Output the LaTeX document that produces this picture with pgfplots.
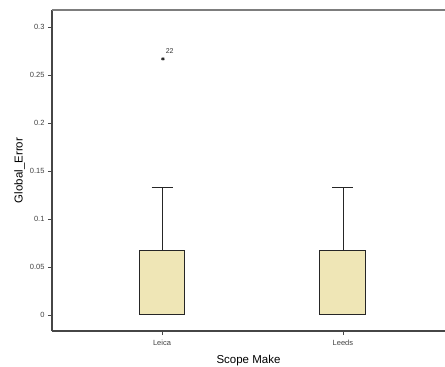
\documentclass[border=0pt]{standalone}
\usepackage{pgfplots}
\pgfplotsset{compat=1.18}
\usepackage{fontspec}
\setmainfont{Liberation Sans}
\definecolor{boxfill}{RGB}{239,230,182}
\definecolor{axgray}{RGB}{70,70,70}
\begin{document}
\begin{tikzpicture}
\begin{axis}[
  scale only axis,
  width=393pt, height=321pt,
  xmin=0.392, xmax=2.564,
  ymin=-0.0167, ymax=0.318,
  axis lines*=left,
  axis line style={axgray, line width=1.1pt},
  xtick={1,2}, xticklabels={Leica,Leeds},
  ytick={0,0.05,0.1,0.15,0.2,0.25,0.3},
  yticklabels={0,0.05,0.1,0.15,0.2,0.25,0.3},
  tick align=outside,
  major tick length=4pt,
  tick style={axgray, line width=0.8pt},
  /pgf/number format/assume math mode=true,
  ticklabel style={font=\fontsize{7.5}{8}\selectfont, text=black!75},
  xticklabel style={yshift=-2pt},
  xlabel={Scope Make},
  ylabel={Global\_Error},
  label style={font=\fontsize{11.5}{13}\selectfont},
  xlabel style={yshift=-2pt},
  ylabel style={yshift=-2pt},
  clip=false,
]
\draw[axgray!70, line width=1.4pt] (rel axis cs:0,1) -- (rel axis cs:1,1);
% Leica box (Q1 = median = 0, Q3 = 0.067) and whisker to 0.133
\addplot[draw=black!85, line width=1pt, fill=boxfill]
  coordinates {(0.873,0) (1.127,0) (1.127,0.067) (0.873,0.067)} -- cycle;
\addplot[black!85, line width=0.9pt] coordinates {(1,0.067) (1,0.133)};
\addplot[black!85, line width=0.9pt] coordinates {(0.942,0.133) (1.058,0.133)};
% Leeds box
\addplot[draw=black!85, line width=1pt, fill=boxfill]
  coordinates {(1.873,0) (2.127,0) (2.127,0.067) (1.873,0.067)} -- cycle;
\addplot[black!85, line width=0.9pt] coordinates {(2,0.067) (2,0.133)};
\addplot[black!85, line width=0.9pt] coordinates {(1.942,0.133) (2.058,0.133)};
% outlier (case 22)
\addplot[only marks, mark=asterisk, mark size=1.8pt, mark options={draw=black!85, line width=0.7pt}]
  coordinates {(1.005,0.267)};
\node[font=\fontsize{7}{8}\selectfont, text=black!80, anchor=south west, inner sep=0pt]
  at (axis cs:1.02,0.272) {22};
\end{axis}
\pgfresetboundingbox
\useasboundingbox ([shift={(-52pt,-35pt)}]current axis.south west) rectangle ([shift={(0pt,10pt)}]current axis.north east);
\end{tikzpicture}
\end{document}
